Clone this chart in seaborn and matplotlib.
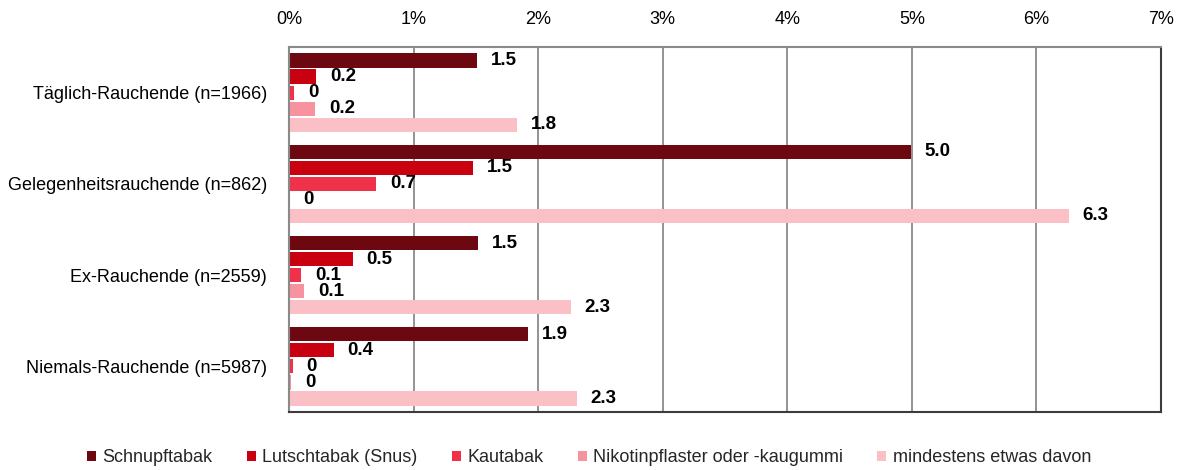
import matplotlib
matplotlib.use("Agg")
import matplotlib.pyplot as plt
import pandas as pd
import seaborn as sns

# Data (percent)
gruppen = [
    'Täglich-Rauchende (n=1966)',
    'Gelegenheitsrauchende (n=862)',
    'Ex-Rauchende (n=2559)',
    'Niemals-Rauchende (n=5987)',
]
produkte = [
    'Schnupftabak',
    'Lutschtabak (Snus)',
    'Kautabak',
    'Nikotinpflaster oder -kaugummi',
    'mindestens etwas davon',
]
schnupftabak = [1.51, 4.99, 1.52, 1.92]
lutschtabak = [0.22, 1.48, 0.51, 0.36]
kautabak = [0.04, 0.70, 0.10, 0.03]
nikotin = [0.21, 0.0, 0.12, 0.02]
mindestens = [1.83, 6.26, 2.26, 2.31]

farben = ['#6e0810', '#c8000f', '#f0314a', '#f7939f', '#fbc0c6']
x_ticks = [0, 1, 2, 3, 4, 5, 6, 7]

serien = [schnupftabak, lutschtabak, kautabak, nikotin, mindestens]
df = pd.DataFrame([
    {'gruppe': g, 'produkt': p, 'wert': v}
    for p, werte in zip(produkte, serien)
    for g, v in zip(gruppen, werte)
])

sns.set_theme(style='white')
plt.rcParams['font.family'] = ['Liberation Sans', 'DejaVu Sans']

fig, ax = plt.subplots(figsize=(11.78, 4.70), dpi=100)
fig.subplots_adjust(left=289 / 1178, right=1161 / 1178, top=1 - 47 / 470, bottom=1 - 412 / 470)

sns.barplot(data=df, x='wert', y='gruppe', hue='produkt', order=gruppen, hue_order=produkte,
            palette=farben, orient='h', width=0.88, gap=0.12, linewidth=0, saturation=1,
            legend=True, ax=ax)

# value labels
for cont in ax.containers:
    labels = ['0' if round(b.get_width(), 1) == 0 else f'{b.get_width():.1f}' for b in cont]
    ax.bar_label(cont, labels=labels, padding=10, fontsize=13.5, fontweight='bold', color='black')

ax.set_xlim(0, 7)
ax.set_xticks(x_ticks)
ax.set_xticklabels([f'{t}%' for t in x_ticks])
ax.xaxis.tick_top()
ax.tick_params(axis='x', length=0, pad=14, labelsize=13, labelcolor='black')
ax.tick_params(axis='y', length=0, pad=16, labelsize=13, labelcolor='black')
ax.set_xlabel('')
ax.set_ylabel('')
ax.grid(axis='x', color='#8a8a8a', linewidth=1.3)
ax.set_axisbelow(True)

for side in ['top', 'left']:
    ax.spines[side].set_color('#8a8a8a')
    ax.spines[side].set_linewidth(1.5)
for side in ['right', 'bottom']:
    ax.spines[side].set_color('#3c3c3c')
    ax.spines[side].set_linewidth(1.5)

handles, lbls = ax.get_legend_handles_labels()
ax.get_legend().remove()
fig.legend(handles, lbls, loc='center', bbox_to_anchor=(0.5, 1 - 458 / 470), ncol=5,
           frameon=False, fontsize=13, handlelength=0.5, handleheight=0.5,
           handletextpad=0.35, columnspacing=1.9)

fig.savefig('out.png', dpi=100)
